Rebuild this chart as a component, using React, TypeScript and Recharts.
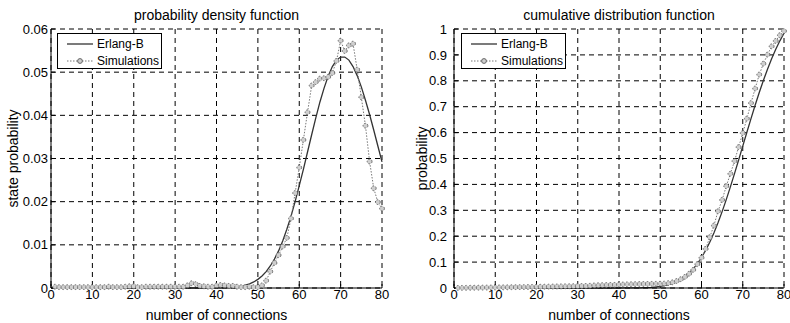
import React from "react";
import { LineChart, Line, XAxis, YAxis, CartesianGrid, Legend, Label } from "recharts";

const FONT = '"Liberation Sans", Arial, Helvetica, sans-serif';

// Erlang-B (k = 0..80)
const erlangPdf = [
  0, 0, 0, 0, 0, 0, 0, 0, 0, 0,
  0, 0, 0, 0, 0, 0, 0, 0, 0, 0,
  0, 0, 0, 0, 0, 0, 0, 0, 0, 0,
  0, 0, 0, 0, 0, 0, 0, 0.00001, 0.00001, 0.00001,
  0.00002, 0.00004, 0.00007, 0.00011, 0.00018, 0.00028, 0.00043, 0.00065, 0.00097, 0.0014,
  0.002, 0.0028, 0.0038, 0.0051, 0.0067, 0.0086, 0.0109, 0.0136, 0.0166, 0.02,
  0.0237, 0.0275, 0.0315, 0.0355, 0.0394, 0.0431, 0.0463, 0.0491, 0.0513, 0.0528,
  0.0535, 0.0535, 0.0528, 0.0513, 0.0492, 0.0466, 0.0435, 0.0402, 0.0366, 0.0329,
  0.0292,
];

// simulations (k = 1..80)
const simPdf = [
  0.0003, 0.0002, 0.0002, 0.0002, 0.0002, 0.0002, 0.0002, 0.0002, 0.0002, 0.0002,
  0.0002, 0.0002, 0.0002, 0.0003, 0.0002, 0.0002, 0.0002, 0.0003, 0.0004, 0.0004,
  0.0002, 0.0002, 0.0003, 0.0003, 0.0003, 0.0003, 0.0003, 0.0003, 0.0003, 0.0003,
  0.0003, 0.0003, 0.0006, 0.0011, 0.0009, 0.0005, 0.0004, 0.0003, 0.0003, 0.0006,
  0.0007, 0.0006, 0.0005, 0.0005, 0.0003, 0.0002, 0.0002, 0.0003, 0.0002, 0.0002,
  0.0006, 0.0017, 0.0038, 0.0058, 0.0076, 0.0096, 0.0116, 0.0161, 0.022, 0.0279,
  0.0343, 0.0407, 0.0469, 0.0477, 0.0485, 0.0486, 0.0489, 0.0498, 0.0526, 0.0573,
  0.0549, 0.0562, 0.0566, 0.0506, 0.0442, 0.0376, 0.0293, 0.0231, 0.0199, 0.0184,
];

const erlangCdf = [
  0, 0, 0, 0, 0, 0, 0, 0, 0, 0,
  0, 0, 0, 0, 0, 0, 0, 0, 0, 0,
  0, 0, 0, 0, 0, 0, 0, 0, 0, 0,
  0, 0, 0, 0, 0, 0, 0, 0, 0, 0.00001,
  0.00003, 0.0001, 0.0002, 0.0003, 0.0005, 0.0007, 0.0012, 0.0018, 0.0028, 0.0042,
  0.0062, 0.009, 0.0127, 0.0178, 0.0245, 0.033, 0.044, 0.0575, 0.0741, 0.0941,
  0.1178, 0.1453, 0.1769, 0.2124, 0.2518, 0.2949, 0.3412, 0.3903, 0.4416, 0.4943,
  0.5478, 0.6013, 0.6541, 0.7054, 0.7546, 0.8013, 0.8448, 0.8849, 0.9215, 0.9543,
  0.9835,
];

const simCdf = [
  0.0003, 0.0005, 0.0007, 0.0009, 0.0011, 0.0013, 0.0015, 0.0017, 0.0019, 0.0021,
  0.0023, 0.0025, 0.0027, 0.003, 0.0032, 0.0034, 0.0036, 0.0039, 0.0043, 0.0047,
  0.0049, 0.0051, 0.0054, 0.0057, 0.006, 0.0063, 0.0066, 0.0069, 0.0072, 0.0075,
  0.0078, 0.0081, 0.0087, 0.0098, 0.0107, 0.0112, 0.0116, 0.0119, 0.0122, 0.0128,
  0.0135, 0.0141, 0.0146, 0.0151, 0.0154, 0.0156, 0.0158, 0.0161, 0.0163, 0.0165,
  0.017, 0.019, 0.022, 0.027, 0.034, 0.043, 0.055, 0.07, 0.092, 0.117,
  0.151, 0.196, 0.241, 0.296, 0.34, 0.393, 0.441, 0.49, 0.544, 0.598,
  0.654, 0.714, 0.77, 0.824, 0.866, 0.901, 0.933, 0.954, 0.976, 0.992,
];

const xTicks = [0, 10, 20, 30, 40, 50, 60, 70, 80];
const pdfTicks = [0, 0.01, 0.02, 0.03, 0.04, 0.05, 0.06];
const cdfTicks = [0, 0.1, 0.2, 0.3, 0.4, 0.5, 0.6, 0.7, 0.8, 0.9, 1];

const buildRows = (theory: number[], sim: number[]) =>
  theory.map((v, k) => ({ k, erlang: v, sim: k === 0 ? undefined : sim[k - 1] }));

const SIM_DOT = { r: 2.4, stroke: "#666", strokeWidth: 1, fill: "#cfcfcf" };

function LegendBox(props: any) {
  const payload = props.payload || [];
  return (
    <div
      style={{
        position: "relative", width: 105, height: 36, boxSizing: "border-box",
        border: "1px solid #000", background: "#fff", fontFamily: FONT, fontSize: 12, color: "#000",
      }}
    >
      {payload.map((p: any, i: number) => (
        <div
          key={p.value}
          style={{ position: "absolute", left: 8, top: i === 0 ? 2 : 19, height: 16, display: "flex", alignItems: "center", whiteSpace: "nowrap" }}
        >
          <svg width={28} height={16}>
            {p.value === "Simulations" ? (
              <>
                <line x1={1} x2={27} y1={8} y2={8} stroke="#777" strokeDasharray="1.5 1.5" />
                <circle cx={14} cy={8} {...SIM_DOT} />
              </>
            ) : (
              <line x1={1} x2={27} y1={8} y2={8} stroke="#333" strokeWidth={1.3} />
            )}
          </svg>
          <span style={{ marginLeft: 3 }}>{p.value}</span>
        </div>
      ))}
    </div>
  );
}

interface PanelProps {
  title: string;
  yLabel: string;
  rows: { k: number; erlang: number; sim?: number }[];
  yTicks: number[];
  yWidth: number;
  rightGap: number;
  tickGap: number;
  labelDx: number;
  legendLeft: number;
}

function Panel({ title, yLabel, rows, yTicks, yWidth, rightGap, tickGap, labelDx, legendLeft }: PanelProps) {
  const yMax = yTicks[yTicks.length - 1];
  const tickStyle = { fontSize: 13, fill: "#000", fontFamily: FONT };
  return (
    <div style={{ position: "relative", width: 395, height: 323 }}>
      <div
        style={{
          position: "absolute", left: yWidth, width: 395 - yWidth - rightGap, top: 7,
          textAlign: "center", fontFamily: FONT, fontSize: 14, lineHeight: "16px", color: "#000",
        }}
      >
        {title}
      </div>
      <LineChart
        width={395}
        height={323}
        data={rows}
        margin={{ top: 29, right: rightGap, bottom: 0, left: 0 }}
        style={{ fontFamily: FONT }}
      >
        <CartesianGrid stroke="#000" strokeDasharray="5 4" />
        <XAxis
          dataKey="k" type="number" domain={[0, 80]} ticks={xTicks} interval={0}
          height={35} tickSize={-4} tickMargin={6} tick={tickStyle}
          axisLine={{ stroke: "#000" }} tickLine={{ stroke: "#000" }}
        >
          <Label value="number of connections" position="insideBottom" offset={3} fontSize={14} fill="#000" />
        </XAxis>
        <XAxis
          xAxisId="top" orientation="top" dataKey="k" type="number" domain={[0, 80]} ticks={xTicks}
          height={0} tick={false} tickSize={-4} axisLine={{ stroke: "#000" }} tickLine={{ stroke: "#000" }}
        />
        <YAxis
          type="number" domain={[0, yMax]} ticks={yTicks} interval={0}
          width={yWidth} tickSize={-4} tickMargin={tickGap} tick={tickStyle}
          axisLine={{ stroke: "#000" }} tickLine={{ stroke: "#000" }}
        >
          <Label value={yLabel} angle={-90} position="center" dx={labelDx} fontSize={14} fill="#000" />
        </YAxis>
        <YAxis
          yAxisId="right" orientation="right" type="number" domain={[0, yMax]} ticks={yTicks}
          width={0} tick={false} tickSize={-4} axisLine={{ stroke: "#000" }} tickLine={{ stroke: "#000" }}
        />
        <Legend
          layout="vertical" align="center" verticalAlign="middle"
          wrapperStyle={{ left: legendLeft, top: 33, width: 105, height: 36 }}
          content={<LegendBox />}
        />
        <Line
          name="Erlang-B" dataKey="erlang" type="linear" stroke="#333" strokeWidth={1.3}
          dot={false} isAnimationActive={false}
        />
        <Line
          name="Simulations" dataKey="sim" type="linear" stroke="#777" strokeWidth={1}
          strokeDasharray="1.5 1.5" dot={SIM_DOT} activeDot={false} isAnimationActive={false}
        />
      </LineChart>
    </div>
  );
}

export default function App() {
  return (
    <div style={{ position: "absolute", left: 0, top: 0, width: 790, height: 323, display: "flex", background: "#fff" }}>
      <Panel
        title="probability density function" yLabel="state probability"
        rows={buildRows(erlangPdf, simPdf)} yTicks={pdfTicks}
        yWidth={51} rightGap={13} tickGap={7} labelDx={-12} legendLeft={57}
      />
      <Panel
        title="cumulative distribution function" yLabel="probability"
        rows={buildRows(erlangCdf, simCdf)} yTicks={cdfTicks}
        yWidth={59} rightGap={6} tickGap={11} labelDx={-2} legendLeft={66}
      />
    </div>
  );
}
